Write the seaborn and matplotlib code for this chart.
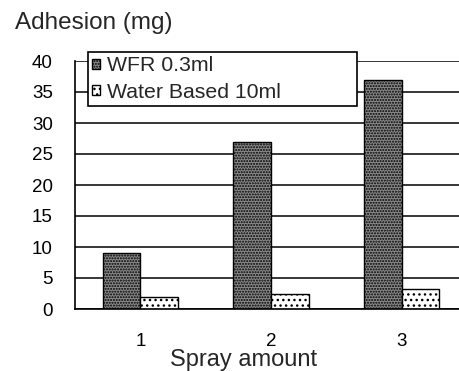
import matplotlib
matplotlib.use("Agg")
import matplotlib.pyplot as plt
import seaborn as sns
import pandas as pd
from matplotlib.patches import Patch
from matplotlib.ticker import FixedLocator

categories = ["1", "2", "3"]
series_names = ["WFR 0.3ml", "Water Based 10ml"]
wfr_values = [9, 27, 37]
water_values = [2, 2.5, 3.2]
y_ticks = [0, 5, 10, 15, 20, 25, 30, 35, 40]

df = pd.DataFrame({
    "Spray amount": categories * 2,
    "Adhesion": wfr_values + water_values,
    "Series": [series_names[0]] * 3 + [series_names[1]] * 3,
})

sns.set_style("white")
plt.rcParams['font.family'] = ['Liberation Sans', 'DejaVu Sans']
plt.rcParams['hatch.linewidth'] = 1.0

W, H = 460, 371
fig = plt.figure(figsize=(W / 100, H / 100), dpi=100)
ax_left, ax_right, ax_top, ax_bottom = 75, 467, 61, 309
ax = fig.add_axes([ax_left / W, 1 - ax_bottom / H, (ax_right - ax_left) / W, (ax_bottom - ax_top) / H])

dark = "#8a8a8a"
light = "#ffffff"
sns.barplot(data=df, x="Spray amount", y="Adhesion", hue="Series",
            palette=[dark, light], width=0.575, ax=ax, legend=False,
            edgecolor="black", linewidth=1.0, saturation=1)

hatches = ["......", "..."]
for cont, h in zip(ax.containers, hatches):
    for p in cont:
        p.set_hatch(h)
        p.set_edgecolor("black")

ax.set_xlim(-0.5, 2.5)
ax.set_ylim(0, 40)
ax.set_yticks(y_ticks)
ax.yaxis.grid(True, color="black", linewidth=1.1)
ax.set_axisbelow(True)
for s in ["top", "right"]:
    ax.spines[s].set_visible(False)
for s in ["left", "bottom"]:
    ax.spines[s].set_color("black")
    ax.spines[s].set_linewidth(1.2)

ax.tick_params(axis="y", length=0, pad=16, labelsize=13.5, colors="black")
ax.tick_params(axis="x", which="major", length=0, pad=17, labelsize=13.5, colors="black")
ax.xaxis.set_minor_locator(FixedLocator([0.5, 1.5]))
ax.tick_params(axis="x", which="minor", direction="in", length=3.5, width=1.2, color="black")
ax.set_xlabel("")
ax.set_ylabel("")

fig.text(15 / W, 1 - 23 / H, "Adhesion (mg)", ha="left", va="center", fontsize=17.5)
fig.text(244 / W, 1 - 360 / H, "Spray amount", ha="center", va="center", fontsize=17)

handles = [Patch(facecolor=dark, edgecolor="black", hatch=hatches[0], linewidth=1.0),
           Patch(facecolor=light, edgecolor="black", hatch=hatches[1], linewidth=1.0)]
lx0, lx1, ly0, ly1 = 88, 357, 52, 106
leg = fig.legend(handles, series_names, loc="upper left",
                 bbox_to_anchor=(lx0 / W, 1 - ly1 / H, (lx1 - lx0) / W, (ly1 - ly0) / H),
                 mode="expand", fontsize=15.3, handlelength=0.35, handleheight=0.35,
                 handletextpad=0.35, labelspacing=0.35, borderpad=0.2, borderaxespad=0,
                 fancybox=False, framealpha=1, edgecolor="black")
leg.get_frame().set_linewidth(1.2)

fig.savefig("out.png", dpi=100)
